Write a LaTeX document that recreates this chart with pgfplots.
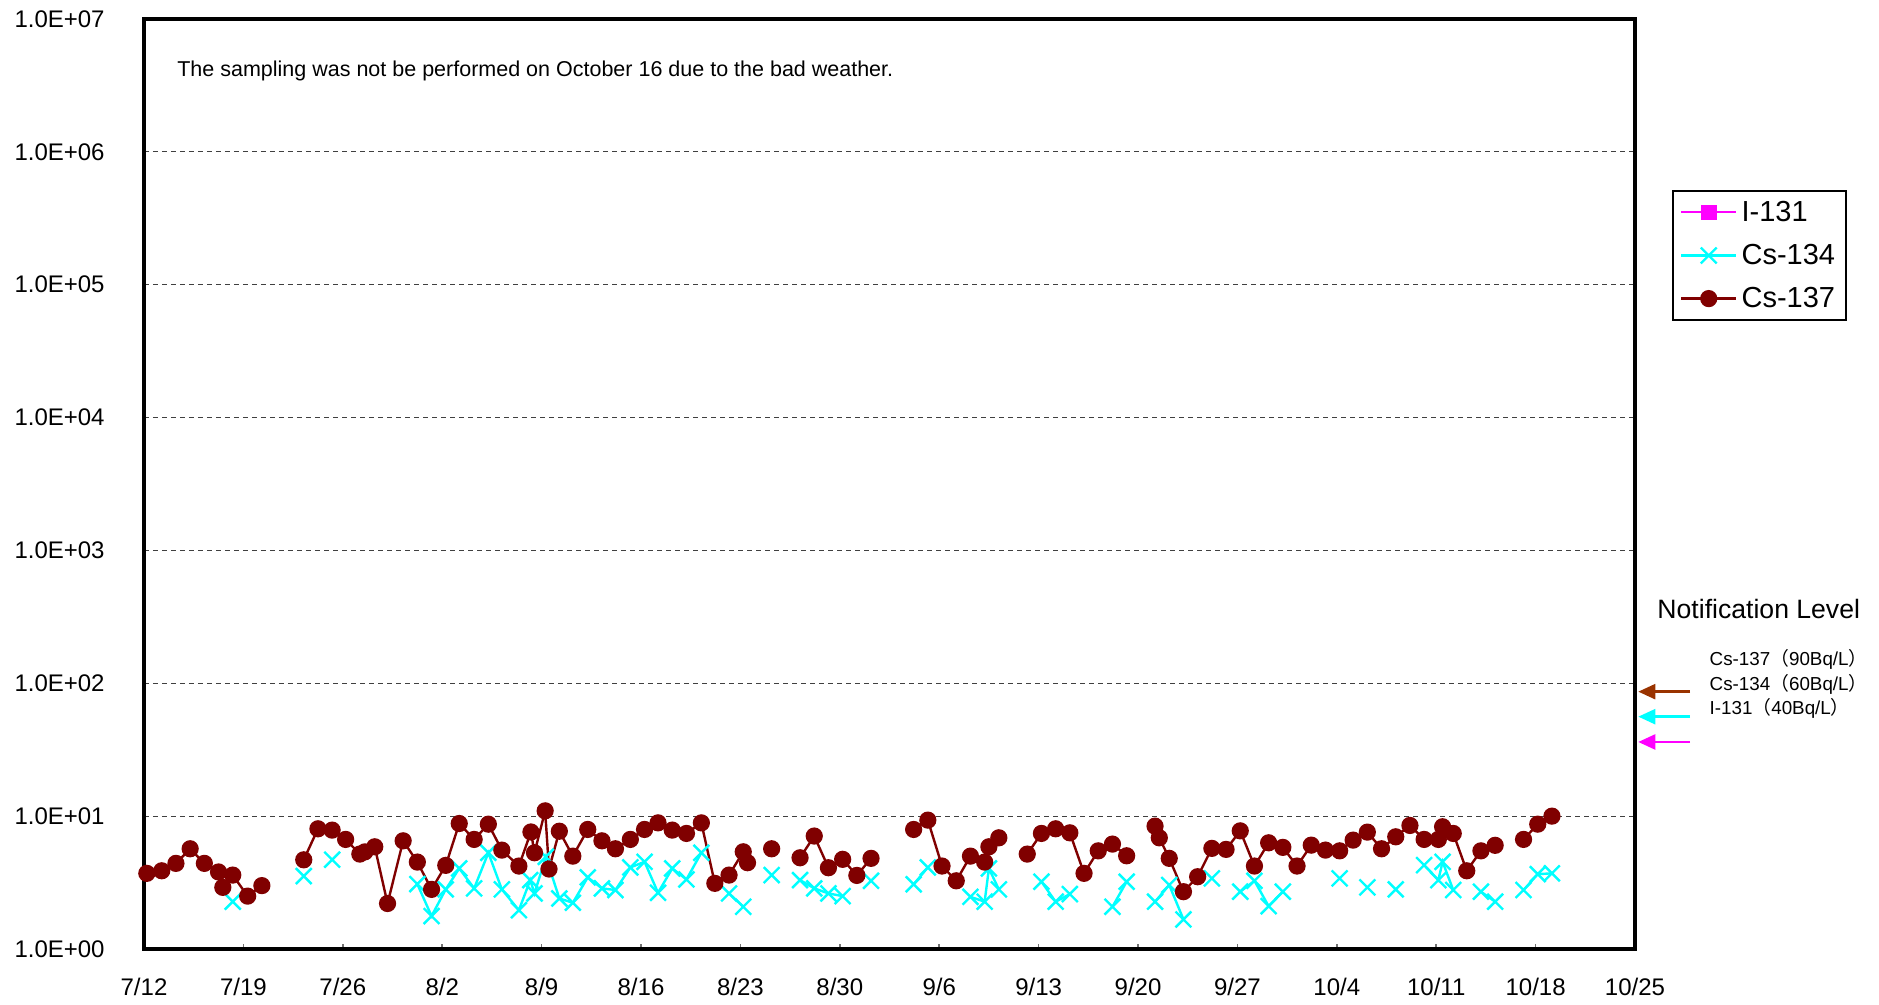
\documentclass[border=0pt]{standalone}
\usepackage{pgfplots}
\pgfplotsset{compat=1.18}
\usepackage{fontspec}
\setmainfont{Liberation Sans}
\newfontfamily\cjk{Noto Sans CJK JP}
\usetikzlibrary{arrows.meta}
\definecolor{csA}{HTML}{800000}
\definecolor{csB}{HTML}{00FFFF}
\definecolor{iod}{HTML}{FF00FF}
\definecolor{brn}{HTML}{993300}

\pgfplotstableread{
x y
0.2 3.71
1.25 3.88
2.25 4.41
3.25 5.68
4.25 4.41
5.25 3.8
5.55 2.91
6.25 3.6
7.3 2.5
8.3 3.0
9 nan
11.25 4.69
12.25 8.03
13.25 7.85
14.2 6.68
15.2 5.18
15.55 5.38
16.25 5.88
17.15 2.2
18.25 6.52
19.25 4.51
20.25 2.81
21.25 4.26
22.2 8.8
23.25 6.68
24.25 8.7
25.2 5.55
26.4 4.21
27.25 7.6
27.5 5.3
28.25 10.96
28.52 4.0
29.25 7.7
30.2 5.0
31.25 7.94
32.25 6.52
33.2 5.68
34.25 6.68
35.25 7.94
36.2 8.9
37.2 7.85
38.2 7.41
39.25 8.9
40.2 3.12
41.2 3.6
42.2 5.39
42.5 4.46
43 nan
44.2 5.68
45 nan
46.2 4.86
47.2 7.08
48.2 4.09
49.2 4.73
50.2 3.58
51.2 4.81
52 nan
54.2 7.94
55.2 9.33
56.2 4.21
57.2 3.26
58.2 5.0
59.2 4.51
59.5 5.88
60.2 6.87
61 nan
62.2 5.18
63.2 7.41
64.2 8.03
65.2 7.49
66.2 3.71
67.2 5.48
68.2 6.16
69.2 5.03
70 nan
71.2 8.41
71.5 6.87
72.2 4.81
73.2 2.7
74.2 3.5
75.2 5.72
76.2 5.62
77.2 7.75
78.2 4.21
79.2 6.3
80.2 5.82
81.2 4.21
82.2 6.05
83.2 5.55
84.2 5.48
85.15 6.6
86.15 7.58
87.15 5.68
88.15 6.99
89.15 8.51
90.15 6.68
91.15 6.68
91.45 8.32
92.2 7.41
93.15 3.88
94.15 5.48
95.15 6.03
96 nan
97.15 6.68
98.15 8.7
99.15 10.0
}\csseven

\pgfplotstableread{
x y
6.25 2.27
7 nan
11.25 3.54
12 nan
13.25 4.7
14 nan
19.25 3.08
20.25 1.77
21.25 2.81
22.2 4.04
23.25 2.86
24.25 5.3
25.2 2.81
26.4 1.96
27.2 3.3
27.5 2.62
28.3 4.94
29.25 2.4
30.2 2.23
31.25 3.46
32.25 2.86
33.2 2.78
34.25 4.11
35.25 4.53
36.2 2.65
37.2 4.04
38.2 3.34
39.25 5.3
40 nan
41.2 2.62
42.2 2.08
43 nan
44.2 3.6
45 nan
46.2 3.3
47.2 2.86
48.2 2.62
49.2 2.5
50 nan
51.2 3.26
52 nan
54.2 3.07
55.2 4.11
56 nan
58.2 2.47
59.2 2.27
59.5 4.04
60.2 2.81
61 nan
63.2 3.21
64.2 2.27
65.2 2.59
66 nan
68.2 2.08
69.2 3.21
70 nan
71.2 2.27
72.2 3.03
73.2 1.67
74 nan
75.2 3.4
76 nan
77.2 2.7
78.2 3.26
79.2 2.1
80.2 2.7
81 nan
84.2 3.4
85 nan
86.15 2.91
87 nan
88.15 2.81
89 nan
90.15 4.28
91.15 3.3
91.45 4.53
92.2 2.78
93 nan
94.15 2.7
95.15 2.27
96 nan
97.15 2.78
98.15 3.66
99.15 3.71
}\csfour

\begin{document}
\begin{tikzpicture}
\useasboundingbox (-72pt,-28pt) rectangle (867.5pt,474.5pt);
\begin{axis}[
  scale only axis,
  width=745.5pt, height=465pt,
  xmin=0, xmax=105,
  ymode=log, ymin=1, ymax=1e7,
  clip=false,
  unbounded coords=jump,
  xtick={0,7,...,105},
  xticklabels={7/12,7/19,7/26,8/2,8/9,8/16,8/23,8/30,9/6,9/13,9/20,9/27,10/4,10/11,10/18,10/25},
  ytick={1,10,100,1000,10000,100000,1000000,10000000},
  yticklabels={1.0E+00,1.0E+01,1.0E+02,1.0E+03,1.0E+04,1.0E+05,1.0E+06,1.0E+07},
  minor ytick={},
  yminorticks=false,
  xtick pos=lower, ytick pos=left,
  tick align=inside,
  major tick length=2.5pt,
  xtick style={black!55, line width=0.8pt},
  ytick style={draw=none},
  ymajorgrids,
  grid style={black!75, dash pattern=on 2.5pt off 2pt, line width=0.5pt},
  axis line style={line width=2pt},
  tick label style={font=\fontsize{12}{14}\selectfont},
  yticklabel style={anchor=east, inner sep=0pt, xshift=-19.5pt},
  xticklabel style={anchor=center, inner sep=0pt, yshift=-19pt},
  legend style={at={(1.0248,0.8161)}, anchor=north west, draw=black, line width=0.85pt,
    font=\fontsize{14.5}{16}\selectfont, row sep=5.9pt, inner ysep=3pt, inner xsep=3.5pt,
    legend cell align=left},
  legend image code/.code={\draw[mark repeat=2,mark phase=2,#1] plot coordinates {(0pt,0pt)(13.85pt,0pt)(27.7pt,0pt)};},
]
\addlegendimage{iod, line width=1pt, mark=square*, mark size=3.4pt, mark options={fill=iod, draw=iod}}
\addlegendentry{I-131}
\addplot[csB, line width=1.2pt, mark=x, mark size=5.6pt, mark options={line width=1.2pt, draw=csB}] table[x=x,y=y] {\csfour};
\addlegendentry{Cs-134\hspace{5pt}}
\addplot[csA, line width=1.2pt, mark=*, mark size=3.7pt, mark options={fill=csA, draw=csA}] table[x=x,y=y] {\csseven};
\addlegendentry{Cs-137}

\node[anchor=west, font=\fontsize{10.75}{12}\selectfont, inner sep=0pt] at (axis description cs:0.0221,0.944)
  {The sampling was not be performed on October 16 due to the bad weather.};
\node[anchor=west, font=\fontsize{13.3}{15}\selectfont, inner sep=0pt] at (axis description cs:1.0148,0.366) {Notification Level};
\node[anchor=west, font=\fontsize{9.4}{11}\selectfont, inner sep=0pt] at (axis description cs:1.0498,0.3118) {Cs-137{\cjk（}90Bq/L{\cjk）}};
\node[anchor=west, font=\fontsize{9.4}{11}\selectfont, inner sep=0pt] at (axis description cs:1.0498,0.2846) {Cs-134{\cjk（}60Bq/L{\cjk）}};
\node[anchor=west, font=\fontsize{9.4}{11}\selectfont, inner sep=0pt] at (axis description cs:1.0498,0.2588) {I-131{\cjk（}40Bq/L{\cjk）}};
\draw[brn, line width=1.2pt, -{Triangle[length=8.5pt,width=7.5pt]}] (axis description cs:1.0369,0.2767) -- (axis description cs:1.0022,0.2767);
\draw[csB, line width=1.2pt, -{Triangle[length=8.5pt,width=7.5pt]}] (axis description cs:1.0369,0.2498) -- (axis description cs:1.0022,0.2498);
\draw[iod, line width=1.2pt, -{Triangle[length=8.5pt,width=7.5pt]}] (axis description cs:1.0369,0.2226) -- (axis description cs:1.0022,0.2226);
\end{axis}
\end{tikzpicture}
\end{document}
